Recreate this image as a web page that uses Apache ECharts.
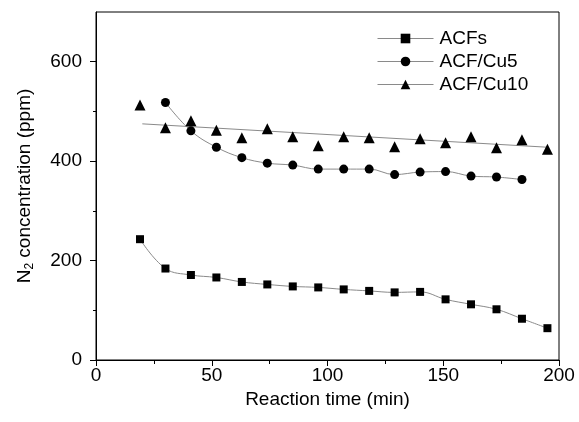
<!DOCTYPE html>
<html lang="en">
<head>
    <meta charset="UTF-8">
    <title>N2 concentration</title>
    <script src="https://cdn.jsdelivr.net/npm/echarts@6/dist/echarts.min.js"></script>
    <style>
        html, body {
            margin: 0;
            padding: 0;
            background: #fff;
        }

        #chart {
            width: 579px;
            height: 422px;
        }
    </style>
</head>
<body>
<div id="chart"></div>
<script>
    // reaction time (min) and N2 concentration (ppm)
    const acfsX = [19, 30, 41, 52, 63, 74, 85, 96, 107, 118, 129, 140, 151, 162, 173, 184, 195];
    const acfsY = [243, 184, 171, 166, 157, 152, 148, 146, 142, 139, 136, 137, 122, 112, 102, 83, 64];

    const cu5X = [30, 41, 52, 63, 74, 85, 96, 107, 118, 129, 140, 151, 162, 173, 184];
    const cu5Y = [518, 461, 428, 407, 396, 392, 384, 384, 384, 373, 378, 379, 370, 368, 363];

    const cu10X = [19, 30, 41, 52, 63, 74, 85, 96, 107, 118, 129, 140, 151, 162, 173, 184, 195];
    const cu10Y = [513, 467, 481, 462, 447, 465, 449, 431, 449, 447, 429, 445, 437, 449, 427, 443, 424];

    // linear fit drawn through the ACF/Cu10 points
    const fitX = [20, 195];
    const fitY = [475, 428];

    const yMajor = [0, 200, 400, 600];
    const yMinor = [100, 300, 500];

    function pairs(xs, ys) {
        return xs.map((x, i) => [x, ys[i]]);
    }

    const font = "'Liberation Sans', Arial, sans-serif";
    const lineGray = '#8a8a8a';

    const chart = echarts.init(document.getElementById('chart'));
    chart.setOption({
        animation: false,
        backgroundColor: '#fff',
        textStyle: {fontFamily: font, color: '#000'},
        grid: {
            left: 96,
            right: 20,
            top: 12,
            bottom: 62,
            show: true,
            borderColor: '#000',
            borderWidth: 1
        },
        legend: {
            orient: 'vertical',
            left: 372,
            top: 24,
            itemWidth: 56,
            itemHeight: 12,
            itemGap: 4,
            textStyle: {fontSize: 19, color: '#000', fontFamily: font, padding: [0, 0, 0, 1]},
            lineStyle: {color: lineGray, width: 1, opacity: 1},
            data: ['ACFs', 'ACF/Cu5', 'ACF/Cu10']
        },
        xAxis: {
            type: 'value',
            min: 0,
            max: 200,
            interval: 50,
            name: 'Reaction time (min)',
            nameLocation: 'middle',
            nameGap: 28,
            nameTextStyle: {fontSize: 19, color: '#000', fontFamily: font},
            axisLine: {lineStyle: {color: '#000', width: 1}},
            axisTick: {length: 6, lineStyle: {color: '#000'}},
            minorTick: {show: true, splitNumber: 2, length: 4, lineStyle: {color: '#000'}},
            axisLabel: {fontSize: 19, color: '#000', margin: 6, fontFamily: font},
            splitLine: {show: false}
        },
        yAxis: [{
            type: 'value',
            min: 0,
            max: 700,
            interval: 100,
            name: '{t|N}{s|2}{t| concentration (ppm)}',
            nameLocation: 'middle',
            nameGap: 60,
            nameRotate: 90,
            nameTextStyle: {
                rich: {
                    t: {fontSize: 19, color: '#000', fontFamily: font},
                    s: {fontSize: 12, color: '#000', fontFamily: font, padding: [10, 0, 0, 0]}
                }
            },
            axisLine: {lineStyle: {color: '#000', width: 1}},
            axisTick: {length: 6, customValues: yMajor, lineStyle: {color: '#000'}},
            axisLabel: {fontSize: 19, color: '#000', margin: 14, customValues: yMajor, fontFamily: font},
            splitLine: {show: false}
        }, {
            type: 'value',
            position: 'left',
            min: 0,
            max: 700,
            interval: 100,
            axisLine: {show: false},
            axisTick: {show: true, length: 3, customValues: yMinor, lineStyle: {color: '#000'}},
            axisLabel: {show: false},
            splitLine: {show: false}
        }],
        series: [
            {
                name: 'ACFs',
                type: 'line',
                data: pairs(acfsX, acfsY),
                smooth: 0.4,
                symbol: 'rect',
                symbolSize: 8,
                itemStyle: {color: '#000'},
                lineStyle: {color: lineGray, width: 1}
            },
            {
                name: 'ACF/Cu5',
                type: 'line',
                data: pairs(cu5X, cu5Y),
                smooth: 0.4,
                symbol: 'circle',
                symbolSize: 9,
                itemStyle: {color: '#000'},
                lineStyle: {color: lineGray, width: 1}
            },
            {
                name: 'ACF/Cu10',
                type: 'line',
                data: pairs(cu10X, cu10Y),
                symbol: 'triangle',
                symbolSize: 11,
                itemStyle: {color: '#000'},
                lineStyle: {width: 0, opacity: 0}
            },
            {
                name: 'fit',
                type: 'line',
                data: pairs(fitX, fitY),
                showSymbol: false,
                symbol: 'none',
                lineStyle: {color: lineGray, width: 1},
                silent: true
            }
        ]
    });
</script>
</body>
</html>
